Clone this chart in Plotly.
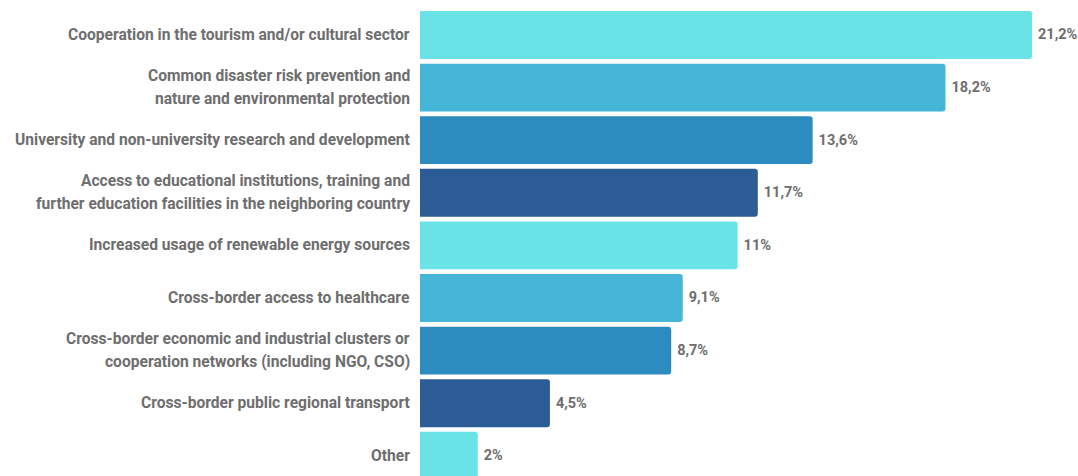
import plotly.graph_objects as go

# Survey answers, top to bottom; each entry is a list of display lines
categories = [
    ["Cooperation in the tourism and/or cultural sector"],
    ["Common disaster risk prevention and", "nature and environmental protection"],
    ["University and non-university research and development"],
    ["Access to educational institutions, training and",
     "further education facilities in the neighboring country"],
    ["Increased usage of renewable energy sources"],
    ["Cross-border access to healthcare"],
    ["Cross-border economic and industrial clusters or",
     "cooperation networks (including NGO, CSO)"],
    ["Cross-border public regional transport"],
    ["Other"],
]
shares = [21.2, 18.2, 13.6, 11.7, 11, 9.1, 8.7, 4.5, 2]
palette = ["#6ae3e7", "#45b5d8", "#2c8cbf", "#2b5c96"]

FONT = "Roboto, sans-serif"
TEXT_COLOR = "#6e6e6e"

positions = list(range(len(shares)))
bar_colors = [palette[i % len(palette)] for i in positions]
value_text = ["<b>\u2009" + f"{v:g}%".replace(".", ",") + "</b>" for v in shares]

fig = go.Figure(
    go.Bar(
        x=shares,
        y=positions,
        orientation="h",
        marker=dict(color=bar_colors, line=dict(width=0), cornerradius=3),
        width=0.91,
        text=value_text,
        textposition="outside",
        textfont=dict(family=FONT, size=14.5, color=TEXT_COLOR),
        cliponaxis=False,
        hoverinfo="skip",
    )
)

# Category labels to the left of the bars, one annotation per line
LINE_GAP = 23
annotations = []
for pos, lines in zip(positions, categories):
    n = len(lines)
    for k, line in enumerate(lines):
        offset = (k - (n - 1) / 2) * LINE_GAP
        annotations.append(
            dict(
                x=0, xref="paper", y=pos, yref="y",
                text=f"<b>{line}</b>",
                xanchor="right", yanchor="middle",
                xshift=-8, yshift=-offset,
                showarrow=False,
                font=dict(family=FONT, size=15.6, color=TEXT_COLOR),
            )
        )

fig.update_layout(
    width=1078,
    height=476,
    margin=dict(l=420, r=0, t=0, b=0),
    paper_bgcolor="white",
    plot_bgcolor="white",
    showlegend=False,
    bargap=0.09,
    annotations=annotations,
    xaxis=dict(range=[0, 22.79], visible=False, fixedrange=True),
    yaxis=dict(
        range=[8.384, -0.665],
        showticklabels=False,
        showgrid=False,
        zeroline=False,
        showline=False,
        fixedrange=True,
    ),
)

fig.write_html("out.html")
